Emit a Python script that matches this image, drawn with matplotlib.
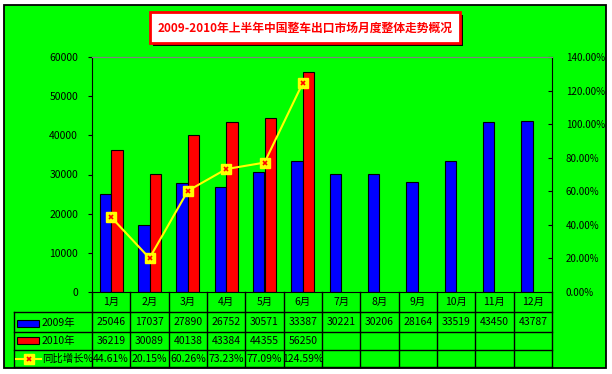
import numpy as np
import matplotlib
matplotlib.use("Agg")
import matplotlib.pyplot as plt
from matplotlib.patches import Rectangle
from matplotlib.ticker import FuncFormatter, MultipleLocator

plt.rcParams['font.family'] = ['Noto Sans CJK SC', 'DejaVu Sans']

MONTHS = ["1月", "2月", "3月", "4月", "5月", "6月",
          "7月", "8月", "9月", "10月", "11月", "12月"]
SALES_2009 = [25046, 17037, 27890, 26752, 30571, 33387,
              30221, 30206, 28164, 33519, 43450, 43787]
SALES_2010 = [36219, 30089, 40138, 43384, 44355, 56250]
GROWTH = [44.61, 20.15, 60.26, 73.23, 77.09, 124.59]
SERIES = ["2009年", "2010年", "同比增长%"]
TITLE = "2009-2010年上半年中国整车出口市场月度整体走势概况"

GREEN = "#00ff00"
BLUE = "#0000ff"
RED = "#ff0000"
YELLOW = "#ffff00"
W, H = 612, 374


def fx(px):
    return px / W


def fy(py):
    return 1 - py / H


def main():
    fig = plt.figure(figsize=(W / 100, H / 100), dpi=100)
    fig.patch.set_facecolor("white")

    # outer green frame
    fig.patches.append(Rectangle((fx(4), fy(368)), (606 - 4) / W, (368 - 5) / H,
                                 transform=fig.transFigure, facecolor=GREEN,
                                 edgecolor="black", lw=1.3, zorder=-5))

    # title box with shadow
    fig.patches.append(Rectangle((fx(153), fy(46)), 310 / W, 31 / H,
                                 transform=fig.transFigure, facecolor="black",
                                 edgecolor="black", lw=0, zorder=1))
    fig.patches.append(Rectangle((fx(150), fy(43)), 310 / W, 31 / H,
                                 transform=fig.transFigure, facecolor="white",
                                 edgecolor=RED, lw=2, zorder=2))
    fig.text(fx(305), fy(28), TITLE, ha="center", va="center", color=RED,
             fontsize=8.5, fontweight="bold", zorder=3)

    # main chart
    ax = fig.add_axes([fx(92), fy(292), 460 / W, 235 / H])
    ax.patch.set_visible(False)
    x = np.arange(len(MONTHS))
    ax.bar(x - 0.15, SALES_2009, width=0.3, color=BLUE, edgecolor="black", lw=0.8)
    ax.bar(x[:len(SALES_2010)] + 0.15, SALES_2010, width=0.3, color=RED,
           edgecolor="black", lw=0.8)
    ax.set_xlim(-0.5, 11.5)
    ax.set_ylim(0, 60000)
    ax.yaxis.set_major_locator(MultipleLocator(10000))
    ax.tick_params(axis="x", length=0, labelbottom=False)
    ax.tick_params(axis="y", direction="out", length=3, pad=7, labelsize=7.5)
    ax.spines["top"].set_color("#808080")
    ax.spines["right"].set_visible(False)

    ax2 = ax.twinx()
    ax2.plot(x[:len(GROWTH)], GROWTH, color=YELLOW, lw=1.5, marker="s",
             markersize=7, mfc=YELLOW, mec=YELLOW, zorder=3)
    ax2.plot(x[:len(GROWTH)], GROWTH, ls="none", marker="x", markersize=3.5,
             mec=RED, mew=1.2, zorder=4)
    ax2.set_ylim(0, 140)
    ax2.yaxis.set_major_locator(MultipleLocator(20))
    ax2.yaxis.set_major_formatter(FuncFormatter(lambda v, p: f"{v:.2f}%"))
    ax2.tick_params(axis="y", direction="in", length=3, pad=10, labelsize=7)
    for s in ("left", "bottom"):
        ax2.spines[s].set_visible(False)
    ax2.spines["top"].set_color("#808080")

    # data table under the chart
    col_w = 460 / 12
    left = -78 / col_w
    tab = fig.add_axes([fx(14), fy(367), (552 - 14) / W, 75 / H])
    tab.set_xlim(left, 12)
    tab.set_ylim(0, 75)
    tab.axis("off")
    rows = [75, 55, 35, 17, 0]
    kw = dict(color="black", lw=1, clip_on=False)
    for i in range(13):
        tab.plot([i, i], [0, 75], **kw)
    tab.plot([left, left], [0, 55], **kw)
    for r in rows[1:]:
        tab.plot([left, 12], [r, r], **kw)

    fs = 7.5
    for i, m in enumerate(MONTHS):
        tab.text(i + 0.5, 65, m, ha="center", va="center", fontsize=fs)
    for i, v in enumerate(SALES_2009):
        tab.text(i + 0.5, 45, str(v), ha="center", va="center", fontsize=fs)
    for i, v in enumerate(SALES_2010):
        tab.text(i + 0.5, 26, str(v), ha="center", va="center", fontsize=fs)
    for i, v in enumerate(GROWTH):
        tab.text(i + 0.5, 8.5, f"{v:.2f}%", ha="center", va="center", fontsize=fs)

    # legend keys in the table
    def px2t(p):
        return (p - 92) / col_w

    tab.add_patch(Rectangle((px2t(17), 40), px2t(39) - px2t(17), 7,
                            facecolor=BLUE, edgecolor="black", lw=0.8, clip_on=False))
    tab.add_patch(Rectangle((px2t(17), 23), px2t(39) - px2t(17), 7,
                            facecolor=RED, edgecolor="black", lw=0.8, clip_on=False))
    tab.plot([px2t(16), px2t(41)], [8, 8], color=YELLOW, lw=1.5, clip_on=False)
    tab.plot([px2t(28.5)], [8], marker="s", markersize=7, mfc=YELLOW, mec=YELLOW,
             clip_on=False)
    tab.plot([px2t(28.5)], [8], marker="x", markersize=3.5, mec=RED, mew=1.2,
             clip_on=False)
    for label, yy in zip(SERIES, [44, 26, 8.5]):
        tab.text(px2t(42), yy, label, ha="left", va="center", fontsize=fs)

    fig.savefig("out.png", dpi=100, facecolor=fig.get_facecolor())


if __name__ == "__main__":
    main()
